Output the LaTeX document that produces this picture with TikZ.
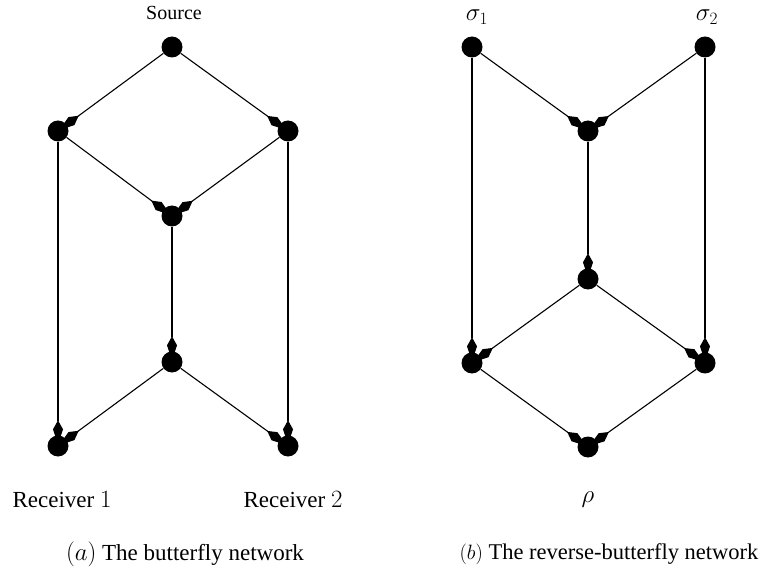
\documentclass[tikz,border=0pt]{standalone}
\usepackage{fontspec}
\setmainfont{Liberation Serif}
\usetikzlibrary{arrows.meta}
\begin{document}
\begin{tikzpicture}[x=1pt,y=-1pt,
  vtx/.style={circle,fill=black,inner sep=0pt,minimum size=21pt},
  edge/.style={line width=1.1pt,-{Kite[length=24pt,width=10pt,inset=9pt]},shorten >=-9pt},
  lbl/.style={font=\fontsize{23}{26}\selectfont,inner sep=0pt},
  slbl/.style={font=\fontsize{20}{24}\selectfont,inner sep=0pt}]
\useasboundingbox (0,0) rectangle (764,575);
% left: butterfly
\node[vtx] (S) at (172,47) {};
\node[vtx] (L) at (58,131) {};
\node[vtx] (R) at (288,131) {};
\node[vtx] (M) at (172,216) {};
\node[vtx] (N) at (172,362) {};
\node[vtx] (BL) at (58,446) {};
\node[vtx] (BR) at (288,446) {};
\draw[edge] (S) -- (L);
\draw[edge] (S) -- (R);
\draw[edge] (L) -- (M);
\draw[edge] (R) -- (M);
\draw[edge] (M) -- (N);
\draw[edge] (N) -- (BL);
\draw[edge] (N) -- (BR);
\draw[edge] (L) -- (BL);
\draw[edge] (R) -- (BR);
\node[slbl] (tS) at (174,13) {Source};
\node[lbl] (tR1) at (62,500) {Receiver $1$};
\node[lbl] (tR2) at (293,500) {Receiver $2$};
\node[lbl] (capa) at (185,554) {$(a)$ The butterfly network};
% right: reverse butterfly
\node[vtx] (s1) at (472,47) {};
\node[vtx] (s2) at (705,47) {};
\node[vtx] (c) at (588,131) {};
\node[vtx] (d) at (588,279) {};
\node[vtx] (e) at (472,363) {};
\node[vtx] (f) at (705,363) {};
\node[vtx] (g) at (588,447) {};
\draw[edge] (s1) -- (c);
\draw[edge] (s2) -- (c);
\draw[edge] (c) -- (d);
\draw[edge] (d) -- (e);
\draw[edge] (d) -- (f);
\draw[edge] (s1) -- (e);
\draw[edge] (s2) -- (f);
\draw[edge] (e) -- (g);
\draw[edge] (f) -- (g);
\node[lbl] (ts1) at (477,17) {$\sigma_1$};
\node[lbl] (ts2) at (707,17) {$\sigma_2$};
\node[lbl] (trho) at (588,500) {$\rho$};
\node[lbl,font=\fontsize{22.5}{26}\selectfont] (capb) at (609,554) {$(b)$ The reverse-butterfly network};
\end{tikzpicture}
\end{document}
